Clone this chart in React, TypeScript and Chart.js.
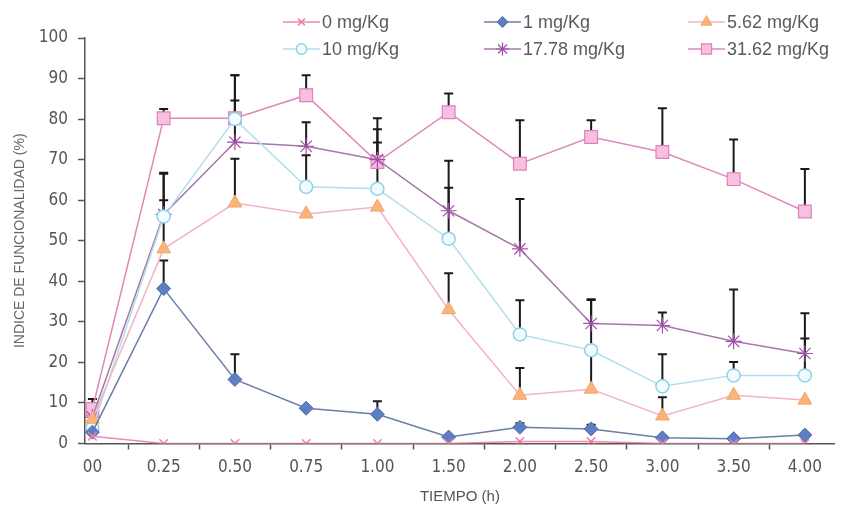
import React, { useEffect, useRef } from "react";
import { Chart, registerables } from "chart.js";
import { drawPoint } from "chart.js/helpers";

Chart.register(...registerables);

const categories = ["00", "0.25", "0.50", "0.75", "1.00", "1.50", "2.00", "2.50", "3.00", "3.50", "4.00"];
const yTicks = [0, 10, 20, 30, 40, 50, 60, 70, 80, 90, 100];

const seriesNames = ["0 mg/Kg", "1 mg/Kg", "5.62 mg/Kg", "10 mg/Kg", "17.78 mg/Kg", "31.62 mg/Kg"];

const dose0 = [1.8, 0, 0, 0, 0, 0, 0.5, 0.5, 0, 0, 0];
const dose1 = [2.8, 38.2, 15.8, 8.7, 7.2, 1.6, 4, 3.6, 1.4, 1.2, 2.1];
const dose562 = [6, 48, 59.3, 56.6, 58.3, 33, 11.9, 13.4, 6.8, 11.9, 10.7];
const dose10 = [3.8, 56, 80, 63.3, 62.8, 50.5, 26.9, 23, 14.1, 16.8, 16.8];
const dose1778 = [6.5, 56.5, 74.3, 73.3, 70, 57.4, 48, 29.6, 29.1, 25.2, 22.2];
const dose3162 = [8.5, 80.2, 80.2, 85.9, 69.4, 81.7, 69, 75.6, 71.9, 65.2, 57.2];

const err0 = [0, 0, 0, 0, 0, 0, 0, 0, 0, 0, 0];
const err1 = [0, 6.9, 6.2, 0, 3.2, 0, 1, 1, 0, 0, 0];
const err562 = [0, 12, 10.9, 0, 0, 9, 6.7, 22, 4.6, 0, 0];
const err10 = [0, 10.8, 10.8, 7.8, 11.4, 12.6, 8.4, 0, 7.9, 3.3, 9.1];
const err1778 = [0, 10, 10.3, 5.9, 7.5, 12.3, 12.3, 6, 3.2, 12.8, 9.9];
const err3162 = [2.5, 2.3, 10.6, 4.9, 10.8, 4.6, 10.7, 4.1, 10.8, 9.8, 10.5];

const values = [dose0, dose1, dose562, dose10, dose1778, dose3162];
const errors = [err0, err1, err562, err10, err1778, err3162];

const styles = [
  { line: "#f08aae", style: "crossRot", radius: 6, bg: "#ee7fa6", border: "#ee7fa6", bw: 1.5 },
  { line: "#6b7ea6", style: "rectRot", radius: 7, bg: "#5d7ec2", border: "#5070b0", bw: 1 },
  { line: "#f3b3c5", style: "triangle", radius: 8, bg: "#f9b47c", border: "#f3a468", bw: 1 },
  { line: "#b0dfec", style: "circle", radius: 6.5, bg: "#f2fbff", border: "#8fd2e6", bw: 1.5 },
  { line: "#a678aa", style: "star", radius: 8, bg: "#a050a8", border: "#a050a8", bw: 1.2 },
  { line: "#dd8abb", style: "rect", radius: 9, bg: "#f7c0e0", border: "#df80b8", bw: 1.2 },
];

const legendCols = [283, 484, 688];
const legendRows = [22, 49];

const errorBarPlugin = {
  id: "errorBars",
  beforeDatasetsDraw(chart: any) {
    const { ctx, scales } = chart;
    const xs = scales.x;
    const ys = scales.y;
    ctx.save();
    ctx.strokeStyle = "#1a1a1a";
    ctx.lineWidth = 2;
    errors.forEach((errs, i) => {
      errs.forEach((e, j) => {
        if (!e) return;
        const x = xs.getPixelForValue(j);
        const y0 = ys.getPixelForValue(values[i][j]);
        const y1 = ys.getPixelForValue(values[i][j] + e);
        ctx.beginPath();
        ctx.moveTo(x, y0);
        ctx.lineTo(x, y1);
        ctx.moveTo(x - 4.5, y1);
        ctx.lineTo(x + 4.5, y1);
        ctx.stroke();
      });
    });
    ctx.restore();
  },
};

const legendPlugin = {
  id: "customLegend",
  afterDraw(chart: any) {
    const { ctx } = chart;
    ctx.save();
    seriesNames.forEach((name, i) => {
      const col = i % 3;
      const row = Math.floor(i / 3);
      const x0 = legendCols[col];
      const y = legendRows[row];
      const st = styles[i];
      ctx.strokeStyle = st.line;
      ctx.lineWidth = 1.5;
      ctx.beginPath();
      ctx.moveTo(x0, y);
      ctx.lineTo(x0 + 37, y);
      ctx.stroke();
      ctx.fillStyle = st.bg;
      ctx.strokeStyle = st.border;
      ctx.lineWidth = st.bw;
      drawPoint(ctx, { pointStyle: st.style, radius: st.radius * 0.8, rotation: 0, borderWidth: st.bw }, x0 + 18.5, y);
      ctx.fillStyle = "#5a5a5a";
      ctx.font = '18px "Liberation Sans", Arial, sans-serif';
      ctx.textBaseline = "middle";
      ctx.textAlign = "left";
      ctx.fillText(name, x0 + 39, y + 1);
    });
    ctx.restore();
  },
};

const tickFont = { family: '"Liberation Sans Narrow", "DejaVu Sans Condensed", "Arial Narrow", sans-serif', size: 17 };

export default function App() {
  const ref = useRef<HTMLCanvasElement>(null);
  useEffect(() => {
    document.body.style.margin = "0";
    const datasets = values.map((vals, i) => ({
      label: seriesNames[i],
      data: vals.map((v, j) => ({ x: j, y: v })),
      borderColor: styles[i].line,
      borderWidth: 1.5,
      pointStyle: styles[i].style,
      pointRadius: styles[i].radius,
      pointBackgroundColor: styles[i].bg,
      pointBorderColor: styles[i].border,
      pointBorderWidth: styles[i].bw,
      tension: 0,
      fill: false,
    }));
    const chart = new Chart(ref.current!, {
      type: "line",
      data: { datasets },
      plugins: [errorBarPlugin, legendPlugin],
      options: {
        animation: false,
        responsive: false,
        devicePixelRatio: 1,
        layout: { padding: { top: 38, right: 0, bottom: 0, left: 0 } },
        plugins: { legend: { display: false }, tooltip: { enabled: false } },
        scales: {
          x: {
            type: "linear",
            min: -0.104,
            max: 10.42,
            afterFit(scale: any) {
              scale.height = 63.5;
            },
            afterBuildTicks(scale: any) {
              const t = [];
              for (let v = 0; v <= 10; v += 0.5) t.push({ value: v });
              scale.ticks = t;
            },
            border: { color: "#555", width: 1.5 },
            grid: {
              drawOnChartArea: false,
              drawTicks: true,
              tickLength: 6,
              tickWidth: 1.5,
              tickColor: (c: any) => (c.tick && Number.isInteger(c.tick.value) ? "rgba(0,0,0,0)" : "#555"),
            },
            ticks: {
              autoSkip: false,
              maxRotation: 0,
              padding: 8,
              color: "#555",
              font: tickFont,
              callback: (v: any) => (Number.isInteger(v) ? categories[v] : ""),
            },
            title: {
              display: true,
              text: "TIEMPO (h)",
              color: "#555",
              font: { family: '"Liberation Sans", Arial, sans-serif', size: 15 },
              padding: { top: 0, bottom: 1 },
            },
          },
          y: {
            min: 0,
            max: 100,
            afterFit(scale: any) {
              scale.width = 85;
            },
            afterBuildTicks(scale: any) {
              scale.ticks = yTicks.map((v) => ({ value: v }));
            },
            border: { color: "#555", width: 1.5 },
            grid: { drawOnChartArea: false, tickLength: 7, tickWidth: 1.5, tickColor: "#555" },
            ticks: { padding: 10, color: "#555", font: tickFont },
            title: {
              display: true,
              text: "INDICE DE FUNCIONALIDAD (%)",
              color: "#666",
              font: { family: '"Liberation Sans", Arial, sans-serif', size: 14 },
              padding: { top: 12, bottom: 0 },
            },
          },
        },
      },
    });
    return () => chart.destroy();
  }, []);
  return <canvas ref={ref} width={845} height={507} style={{ display: "block" }} />;
}
